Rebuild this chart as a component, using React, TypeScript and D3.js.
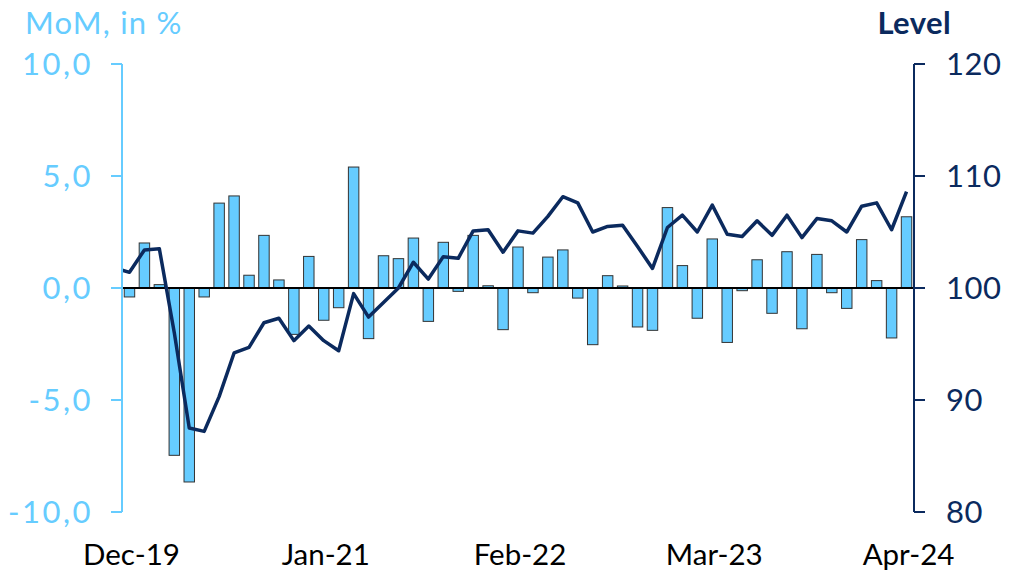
import React, { useEffect } from 'react';
import * as d3 from 'd3';

// monthly data, Dec-19 .. Apr-24
const months = [
  'Dec-19', 'Jan-20', 'Feb-20', 'Mar-20', 'Apr-20', 'May-20', 'Jun-20', 'Jul-20', 'Aug-20', 'Sep-20', 'Oct-20', 'Nov-20',
  'Dec-20', 'Jan-21', 'Feb-21', 'Mar-21', 'Apr-21', 'May-21', 'Jun-21', 'Jul-21', 'Aug-21', 'Sep-21', 'Oct-21', 'Nov-21',
  'Dec-21', 'Jan-22', 'Feb-22', 'Mar-22', 'Apr-22', 'May-22', 'Jun-22', 'Jul-22', 'Aug-22', 'Sep-22', 'Oct-22', 'Nov-22',
  'Dec-22', 'Jan-23', 'Feb-23', 'Mar-23', 'Apr-23', 'May-23', 'Jun-23', 'Jul-23', 'Aug-23', 'Sep-23', 'Oct-23', 'Nov-23',
  'Dec-23', 'Jan-24', 'Feb-24', 'Mar-24', 'Apr-24',
];

const mom = [
  -0.4, 2.01, 0.15, -7.47, -8.66, -0.4, 3.79, 4.11, 0.57, 2.35, 0.36, -2.07,
  1.41, -1.44, -0.88, 5.4, -2.26, 1.44, 1.31, 2.23, -1.49, 2.04, -0.15, 2.35,
  0.1, -1.86, 1.83, -0.21, 1.38, 1.7, -0.45, -2.53, 0.55, 0.09, -1.74, -1.89,
  3.59, 1.0, -1.35, 2.19, -2.43, -0.12, 1.26, -1.13, 1.62, -1.82, 1.5, -0.21,
  -0.91, 2.16, 0.33, -2.23, 3.18,
];

// level series starts one month earlier (Nov-19), clipped at the left axis
const levelStart = 101.8;
const level = [
  101.4, 103.4, 103.5, 96.0, 87.5, 87.2, 90.3, 94.2, 94.7, 96.9, 97.3, 95.3,
  96.6, 95.3, 94.4, 99.5, 97.4, 98.7, 100.0, 102.3, 100.8, 102.8, 102.65, 105.1,
  105.2, 103.2, 105.1, 104.9, 106.4, 108.15, 107.6, 105.0, 105.5, 105.6, 103.7, 101.75,
  105.4, 106.5, 105.0, 107.4, 104.8, 104.6, 106.0, 104.7, 106.5, 104.5, 106.2, 106.0,
  105.0, 107.3, 107.6, 105.2, 108.6,
];

const xLabels = ['Dec-19', 'Jan-21', 'Feb-22', 'Mar-23', 'Apr-24'];
const leftTicks = [-10, -5, 0, 5, 10];
const rightTicks = [80, 90, 100, 110, 120];

const W = 1020;
const H = 571;
const left = 122;
const right = 914;
const top = 64;
const bottom = 512;

const LIGHT = '#66ccff';
const NAVY = '#0b2a5e';
const FONT = 'Lato, sans-serif';

const App = () => {
  useEffect(() => {
    document.body.style.margin = '0';
  }, []);

  const x = d3.scaleBand<string>().domain(months).range([left, right]).paddingInner(0.3).paddingOuter(0.15);
  const yL = d3.scaleLinear().domain([-10, 10]).range([bottom, top]);
  const yR = d3.scaleLinear().domain([80, 120]).range([bottom, top]);

  const step = x.step();
  const cx = (i: number) => x.range()[0] + step * (i + 0.5);

  const pts: [number, number][] = [[cx(-1), yR(levelStart)], ...level.map((v, i) => [cx(i), yR(v)] as [number, number])];
  const line = d3.line<[number, number]>().x((d) => d[0]).y((d) => d[1]);

  const fmt = (v: number) => d3.format('.1f')(v).replace('.', ',').replace('−', '-');

  return (
    <svg width={W} height={H} style={{ display: 'block', fontFamily: FONT }}>
      <defs>
        <clipPath id="plot">
          <rect x={left} y={0} width={right - left} height={H} />
        </clipPath>
      </defs>

      {/* titles */}
      <text x={25} y={34} fill={LIGHT} fontSize={31} letterSpacing={1.2}>MoM, in %</text>
      <text x={951} y={34} fill={NAVY} fontSize={31} fontWeight={700} letterSpacing={0.4} textAnchor="end">Level</text>

      {/* bars */}
      {mom.map((v, i) => (
        <rect
          key={months[i]}
          x={x(months[i])}
          y={Math.min(yL(v), yL(0))}
          width={x.bandwidth()}
          height={Math.abs(yL(v) - yL(0))}
          fill={LIGHT}
          stroke="#333"
          strokeWidth={1}
        />
      ))}

      {/* zero line */}
      <line x1={left} x2={right} y1={yL(0)} y2={yL(0)} stroke="#000" strokeWidth={2} />

      {/* level line */}
      <path d={line(pts) || ''} fill="none" stroke={NAVY} strokeWidth={3.5} strokeLinejoin="round" clipPath="url(#plot)" />

      {/* left axis */}
      <line x1={left} x2={left} y1={yL(-10)} y2={yL(10)} stroke={LIGHT} strokeWidth={2} />
      {leftTicks.map((t) => (
        <g key={t} transform={`translate(0,${yL(t)})`}>
          <line x1={left - 11} x2={left} stroke={LIGHT} strokeWidth={2} />
          <text x={93} dy="0.36em" textAnchor="end" fill={LIGHT} fontSize={31} letterSpacing={2.5}>{fmt(t)}</text>
        </g>
      ))}

      {/* right axis */}
      <line x1={right} x2={right} y1={yR(80)} y2={yR(120)} stroke={NAVY} strokeWidth={2} />
      {rightTicks.map((t) => (
        <g key={t} transform={`translate(0,${yR(t)})`}>
          <line x1={right} x2={right + 11} stroke={NAVY} strokeWidth={2} />
          <text x={946} dy="0.36em" fill={NAVY} fontSize={31} letterSpacing={0.5}>{t}</text>
        </g>
      ))}

      {/* x labels */}
      {xLabels.map((m) => (
        <text key={m} x={(x(m) || 0) + x.bandwidth() / 2 + 2} y={565} textAnchor="middle" fill="#000" fontSize={29.5}>
          {m}
        </text>
      ))}
    </svg>
  );
};

export default App;
